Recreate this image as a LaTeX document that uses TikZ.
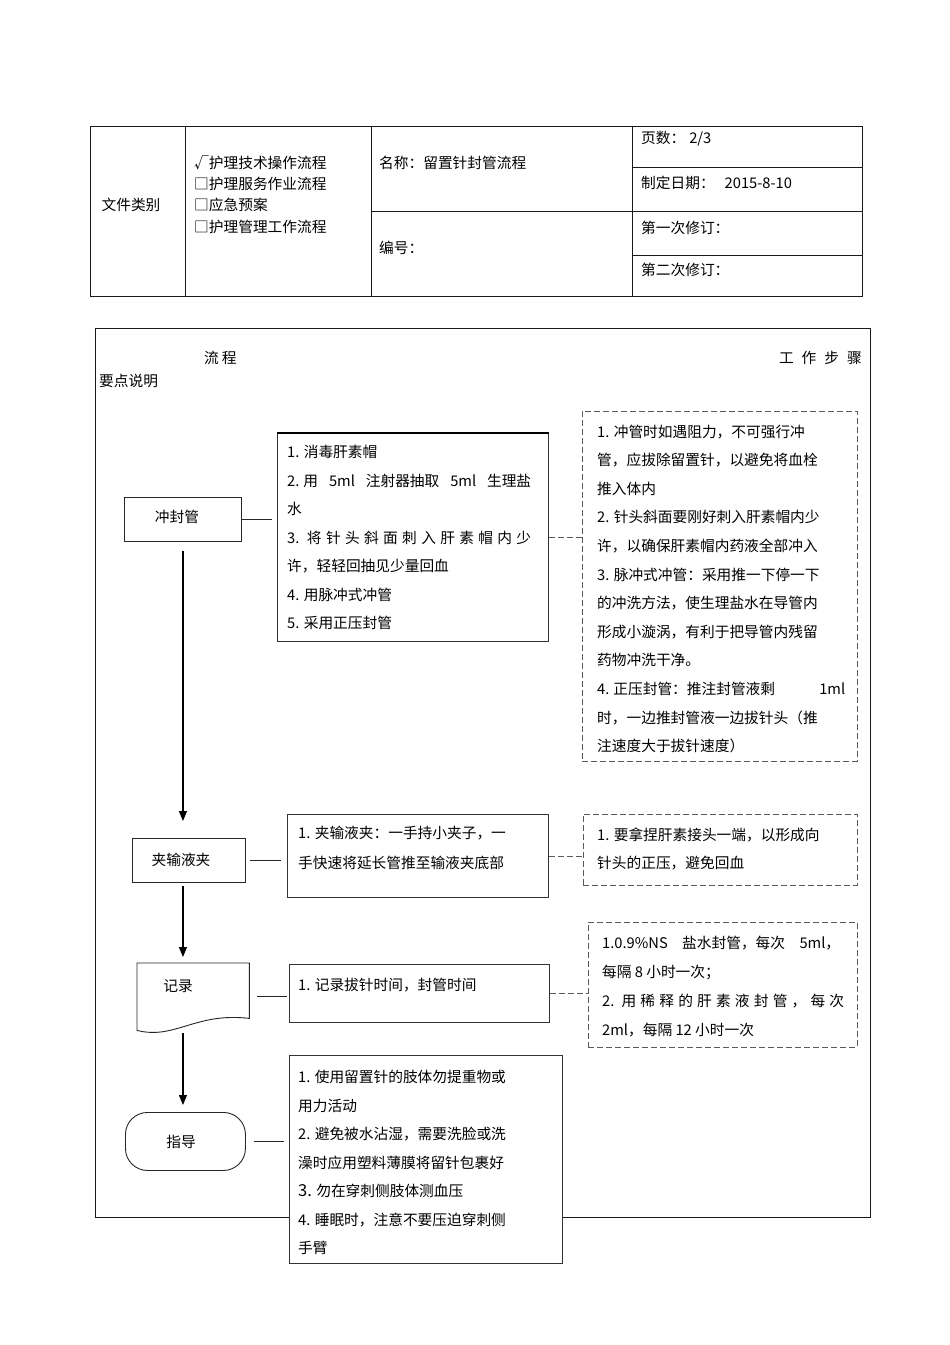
\documentclass[tikz,border=0pt]{standalone}
\usepackage{fontspec}
\setmainfont{Noto Sans CJK SC}
\usetikzlibrary{arrows.meta}
\begin{document}
\begin{tikzpicture}[x=1pt,y=-1pt,
  frame/.style={draw=black!90, line width=0.9pt},
  stepbox/.style={draw=black!80, line width=0.9pt, fill=white, inner sep=0pt, anchor=north west},
  notebox/.style={draw=black!65, line width=0.9pt, dash pattern=on 6pt off 3pt, inner sep=0pt, anchor=north west},
  procbox/.style={draw=black!85, line width=0.9pt, inner sep=0pt, anchor=north west},
  conn/.style={draw=black!85, line width=0.9pt},
  dconn/.style={draw=black!65, line width=0.9pt, dash pattern=on 6pt off 3pt},
  arr/.style={draw=black, line width=1.1pt, -{Triangle[width=8pt,length=10pt]}},
  txt/.style={inner sep=0pt, anchor=west, font=\fontsize{14.7}{17}\selectfont, text height=13pt, text depth=1.8pt},
  ctxt/.style={txt, anchor=center}
]
\useasboundingbox[fill=white] (0,0) rectangle (950,1345);

% ---------- header table ----------
\draw[frame] (90,126) rectangle (862,296);
\draw[frame] (185,126) -- (185,296);
\draw[frame] (371,126) -- (371,296);
\draw[frame] (632,126) -- (632,296);
\draw[frame] (632,167) -- (862,167);
\draw[frame] (371,211) -- (862,211);
\draw[frame] (632,255) -- (862,255);

\node[ctxt] (h1) at (131,205) {文件类别};
\node[txt] (h2) at (194,163) {√护理技术操作流程};
\node[txt] (h3) at (194,184) {□护理服务作业流程};
\node[txt] (h4) at (194,205) {□应急预案};
\node[txt] (h5) at (194,227) {□护理管理工作流程};
\node[txt] (h6) at (379,163) {名称：留置针封管流程};
\node[txt] (h7) at (379,248) {编号：};
\node[txt] (h8) at (641,138) {页数：\hspace{4pt}2/3};
\node[txt] (h9) at (641,183) {制定日期：\hspace{10pt}2015-8-10};
\node[txt] (h10) at (641,228) {第一次修订：};
\node[txt] (h11) at (641,270) {第二次修订：};

% ---------- main frame ----------
\draw[frame] (95,328) rectangle (870,1217);
\node[txt] (t1) at (204,358) {流\hspace{3pt}程};
\node[txt, anchor=east] (t2) at (862,358) {工\hspace{8pt}作\hspace{8pt}步\hspace{8pt}骤};
\node[txt] (t3) at (99,381) {要点说明};

% ---------- process boxes ----------
\node[procbox, minimum width=117pt, minimum height=44pt] (p1) at (124,497) {};
\node[ctxt] (p1t) at (177,517) {冲封管};
\node[procbox, minimum width=113pt, minimum height=44pt] (p2) at (132,838) {};
\node[ctxt] (p2t) at (181,860) {夹输液夹};
\node[inner sep=0pt, anchor=north west, minimum width=112pt, minimum height=67pt] (p3) at (137,963) {};
\draw[conn] (p3.south west) -- (p3.north west) -- (p3.north east) -- ([yshift=12pt]p3.south east)
  .. controls (195,1012) and (175,1040) .. (p3.south west) -- cycle;
\node[ctxt] (p3t) at (178,986) {记录};
\node[procbox, rounded corners=22pt, minimum width=120pt, minimum height=58pt] (p4) at (125,1112) {};
\node[ctxt] (p4t) at (181,1142) {指导};

% ---------- step boxes ----------
\node[stepbox, minimum width=271pt, minimum height=208pt] (s1) at (277,433) {};
\draw[black, line width=1.6pt] (s1.north west) -- (s1.north east);
\foreach \t [count=\i from 0] in {
  {1. 消毒肝素帽},
  {\makebox[244pt][s]{2.\hspace{4pt}用 5ml 注射器抽取 5ml 生理盐}},
  {水},
  {\makebox[244pt][s]{3. 将 针 头 斜 面 刺 入 肝 素 帽 内 少}},
  {许，轻轻回抽见少量回血},
  {4. 用脉冲式冲管},
  {5. 采用正压封管}}
  \node[txt] (s1l\i) at (287, 452+28.5*\i) {\t};

\node[stepbox, minimum width=261pt, minimum height=83pt] (s2) at (287,814) {};
\node[txt] (s2l1) at (298,833) {1. 夹输液夹：一手持小夹子，一};
\node[txt] (s2l2) at (298,863) {手快速将延长管推至输液夹底部};

\node[stepbox, minimum width=260pt, minimum height=58pt] (s3) at (289,964) {};
\node[txt] (s3l1) at (298,985) {1. 记录拔针时间，封管时间};

% ---------- note boxes ----------
\node[notebox, minimum width=275pt, minimum height=350pt] (n1) at (582,411) {};
\foreach \t [count=\i from 0] in {
  {1. 冲管时如遇阻力，不可强行冲},
  {管，应拔除留置针，以避免将血栓},
  {推入体内},
  {2. 针头斜面要刚好刺入肝素帽内少},
  {许，以确保肝素帽内药液全部冲入},
  {3. 脉冲式冲管：采用推一下停一下},
  {的冲洗方法，使生理盐水在导管内},
  {形成小漩涡，有利于把导管内残留},
  {药物冲洗干净。},
  {\makebox[248pt][s]{4.\hspace{4pt}正压封管：推注封管液剩 1ml}},
  {时，一边推封管液一边拔针头（推},
  {注速度大于拔针速度）}}
  \node[txt] (n1l\i) at (597, 431.5+28.6*\i) {\t};

\node[notebox, minimum width=274pt, minimum height=71pt] (n2) at (583,814) {};
\node[txt] (n2l1) at (597,835) {1. 要拿捏肝素接头一端，以形成向};
\node[txt] (n2l2) at (597,863) {针头的正压，避免回血};

\node[notebox, minimum width=269pt, minimum height=125pt] (n3) at (588,922) {};
\foreach \t [count=\i from 0] in {
  {\makebox[238pt][s]{1.0.9\%NS 盐水封管，每次 5ml，}},
  {每隔 8 小时一次；},
  {\makebox[242pt][s]{2. 用 稀 释 的 肝 素 液 封 管 ， 每 次}},
  {2ml，每隔 12 小时一次}}
  \node[txt] (n3l\i) at (602, 943+28.8*\i) {\t};

% ---------- last step box (over the frame) ----------
\node[stepbox, minimum width=273pt, minimum height=208pt] (s4) at (289,1055) {};
\foreach \t [count=\i from 0] in {
  {1. 使用留置针的肢体勿提重物或},
  {用力活动},
  {2. 避免被水沾湿，需要洗脸或洗},
  {澡时应用塑料薄膜将留针包裹好},
  {{\fontsize{16.5}{17}\selectfont 3.} 勿在穿刺侧肢体测血压},
  {4. 睡眠时，注意不要压迫穿刺侧},
  {手臂}}
  \node[txt] (s4l\i) at (298, 1077+28.5*\i) {\t};

% ---------- connectors ----------
\draw[conn, shorten >=5pt] (p1.east) -- (s1.west |- p1.east);
\draw[conn, shorten <=4pt, shorten >=6pt] (p2.east) -- (s2.west |- p2.east);
\draw[conn, shorten <=8pt, shorten >=2pt] (p3.east) -- (s3.west |- p3.east);
\draw[conn, shorten <=8pt, shorten >=5pt] (p4.east) -- (s4.west |- p4.east);

\draw[dconn] (s1.east) -- (n1.west |- s1.east);
\draw[dconn] (s2.east) -- (n2.west |- s2.east);
\draw[dconn] (s3.east) -- (n3.west |- s3.east);

\draw[arr, shorten <=9pt, shorten >=17pt] (p1.south) -- (p1.south |- p2.north);
\draw[arr, shorten <=3pt, shorten >=6pt] (p1.south |- p2.south) -- (p1.south |- p3.north);
\draw[arr, shorten <=3pt, shorten >=7pt] (p1.south |- p3.south) -- (p1.south |- p4.north);
\end{tikzpicture}
\end{document}
